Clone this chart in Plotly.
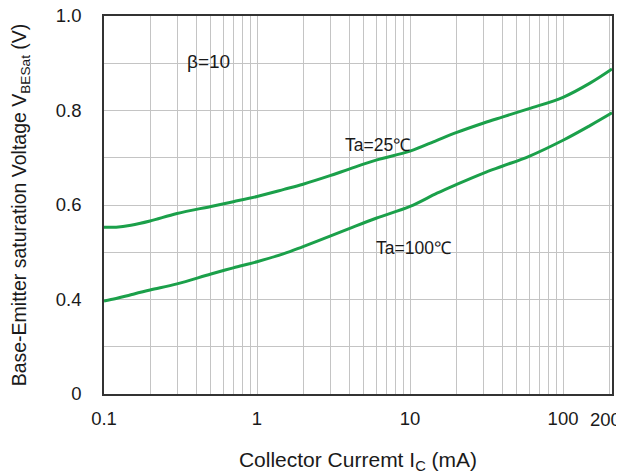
import plotly.graph_objects as go

# Data
ic_ma = [0.1, 0.12, 0.15, 0.2, 0.3, 0.5, 0.7, 1, 1.5, 2, 3, 4, 6, 10, 15, 20, 30, 40, 60, 100, 150, 209]
vbe_25 = [0.553, 0.553, 0.557, 0.566, 0.582, 0.597, 0.607, 0.618, 0.633, 0.644, 0.662, 0.676, 0.695, 0.714, 0.737, 0.753, 0.773, 0.786, 0.804, 0.828, 0.858, 0.888]
vbe_100 = [0.397, 0.402, 0.410, 0.420, 0.433, 0.454, 0.467, 0.480, 0.497, 0.512, 0.534, 0.550, 0.572, 0.597, 0.625, 0.643, 0.667, 0.682, 0.703, 0.737, 0.768, 0.795]

y_tickvals = [0.2, 0.4, 0.6, 0.8, 1.0]
y_ticktext = ["0", "0.4", "0.6", "0.8", "1.0"]
x_tickvals = [0.1, 1, 10, 100]
x_ticktext = ["0.1", "1", "10", "100"]

GREEN = "#1ba04a"
FONT = "Liberation Sans, Arial, sans-serif"

fig = go.Figure()
fig.add_trace(go.Scatter(x=ic_ma, y=vbe_25, mode="lines", line=dict(color=GREEN, width=3, shape="spline"),
                         showlegend=False, hoverinfo="skip"))
fig.add_trace(go.Scatter(x=ic_ma, y=vbe_100, mode="lines", line=dict(color=GREEN, width=3, shape="spline"),
                         showlegend=False, hoverinfo="skip"))

# page body has an 8px margin, so the figure is sized and offset to compensate
fig.update_layout(
    width=616, height=466,
    margin=dict(l=96, r=12, t=8, b=80, autoexpand=False),
    paper_bgcolor="white", plot_bgcolor="white",
    font=dict(family=FONT, color="#1a1a1a", size=19),
    xaxis=dict(
        type="log", range=[-1, 2.32], automargin=False,
        tickvals=x_tickvals, ticktext=x_ticktext,
        showgrid=True, gridcolor="#c4c4c4", gridwidth=1,
        minor=dict(dtick="D1", showgrid=True, gridcolor="#c4c4c4", gridwidth=1, ticks=""),
        showline=True, linecolor="#333333", linewidth=1.5, mirror=True,
        ticks="", ticklabelstandoff=7, ticklabeloverflow="allow",
        tickfont=dict(size=18.5),
        title=dict(text="Collector Curremt I<sub>C</sub> (mA)", font=dict(size=21), standoff=25),
        zeroline=False,
    ),
    yaxis=dict(
        range=[0.2, 1.0], automargin=False,
        tickvals=y_tickvals, ticktext=y_ticktext,
        showgrid=True, gridcolor="#c4c4c4", gridwidth=1,
        minor=dict(dtick=0.1, tick0=0.2, showgrid=True, gridcolor="#c4c4c4", gridwidth=1, ticks=""),
        showline=True, linecolor="#333333", linewidth=1.5, mirror=True,
        ticks="", ticklabelstandoff=17, ticklabeloverflow="allow",
        tickfont=dict(size=18.5),
        title=dict(text="Base-Emitter saturation Voltage V<sub>BESat</sub> (V)", font=dict(size=19.5), standoff=30),
        zeroline=False,
    ),
    annotations=[
        dict(x=2.301, y=0.2, xref="x", yref="y", text="200", showarrow=False,
             yshift=-25, xshift=-4, font=dict(size=18.5)),
        dict(x=-0.32, y=0.903, xref="x", yref="y", text="β=10", showarrow=False, font=dict(size=19)),
        dict(x=0.785, y=0.727, xref="x", yref="y", text="Ta=25℃", showarrow=False, font=dict(size=17.5)),
        dict(x=1.02, y=0.509, xref="x", yref="y", text="Ta=100℃", showarrow=False, font=dict(size=17.5)),
    ],
)

fig.write_html("out.html")
